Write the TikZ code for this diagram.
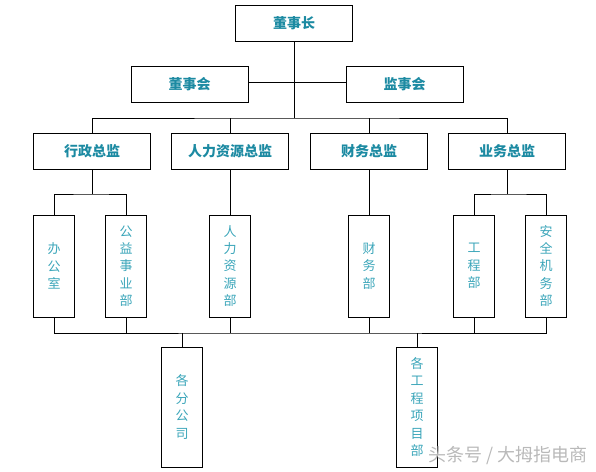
\documentclass[tikz,border=0pt]{standalone}
\usepackage{fontspec}
\setmainfont{Noto Sans CJK SC}
\usetikzlibrary{positioning, calc}
\definecolor{headtext}{RGB}{28,138,162}
\definecolor{depttext}{RGB}{58,165,185}

\begin{document}
\begin{tikzpicture}[x=1pt, y=-1pt,
  headbox/.style={draw, line width=0.8pt, minimum width=117pt, minimum height=36pt,
    font=\bfseries\fontsize{14}{14}\selectfont, text=headtext},
  deptbox/.style={draw, line width=0.8pt, minimum width=41pt, minimum height=102pt,
    inner sep=0pt, align=center, font=\fontsize{13}{17.4}\selectfont, text=depttext},
  link/.style={line width=0.8pt}]
\useasboundingbox (0,0) rectangle (596,471);

% top
\node[headbox] (chair) at (294,23.5) {董事长};
\node[headbox] (board) at (189.5,84.5) {董事会};
\node[headbox] (superv) at (404.5,84.5) {监事会};

% directors
\node[headbox] (admin) at (92,151) {行政总监};
\node[headbox] (hr) at (230,151) {人力资源总监};
\node[headbox] (fin) at (369,151) {财务总监};
\node[headbox] (biz) at (507,151) {业务总监};

% departments
\node[deptbox] (office) at (54,266) {办\\公\\室};
\node[deptbox] (charity) at (126,266) {公\\益\\事\\业\\部};
\node[deptbox] (hrdept) at (230,266) {人\\力\\资\\源\\部};
\node[deptbox] (findept) at (369,266) {财\\务\\部};
\node[deptbox] (eng) at (474,266) {工\\程\\部};
\node[deptbox] (safety) at (546,266) {安\\全\\机\\务\\部};

% bottom
\node[deptbox, minimum height=120pt] (branch) at (182,407) {各\\分\\公\\司};
\node[deptbox, minimum height=120pt] (proj) at (417,407) {各\\工\\程\\项\\目\\部};

\node[anchor=west, inner sep=0pt, text=gray!55, font=\fontsize{18}{18}\selectfont] (mark) at (428,456) {头条号 / 大拇指电商};

\coordinate (topbus) at (294,118);
\coordinate (boardbus) at (294,82);
\coordinate (adminjoin) at (92,194);
\coordinate (bizjoin) at (507,194);
\coordinate (lowbus) at (300,333);

\draw[link] (chair.south) -- (topbus);
\draw[link] (board.east |- boardbus) -- (superv.west |- boardbus);
\draw[link] (admin.north) |- (topbus) -| (biz.north);
\draw[link] (hr.north) -- (hr.north |- topbus);
\draw[link] (fin.north) -- (fin.north |- topbus);

\draw[link] (admin.south) -- (adminjoin);
\draw[link] (office.north) |- (adminjoin) -| (charity.north);
\draw[link] (biz.south) -- (bizjoin);
\draw[link] (eng.north) |- (bizjoin) -| (safety.north);
\draw[link] (hr) -- (hrdept);
\draw[link] (fin) -- (findept);

\draw[link] (office.south) |- (lowbus) -| (safety.south);
\draw[link] (charity.south) -- (charity.south |- lowbus);
\draw[link] (hrdept.south) -- (hrdept.south |- lowbus);
\draw[link] (findept.south) -- (findept.south |- lowbus);
\draw[link] (eng.south) -- (eng.south |- lowbus);
\draw[link] (branch.north) -- (branch.north |- lowbus);
\draw[link] (proj.north) -- (proj.north |- lowbus);
\end{tikzpicture}
\end{document}
